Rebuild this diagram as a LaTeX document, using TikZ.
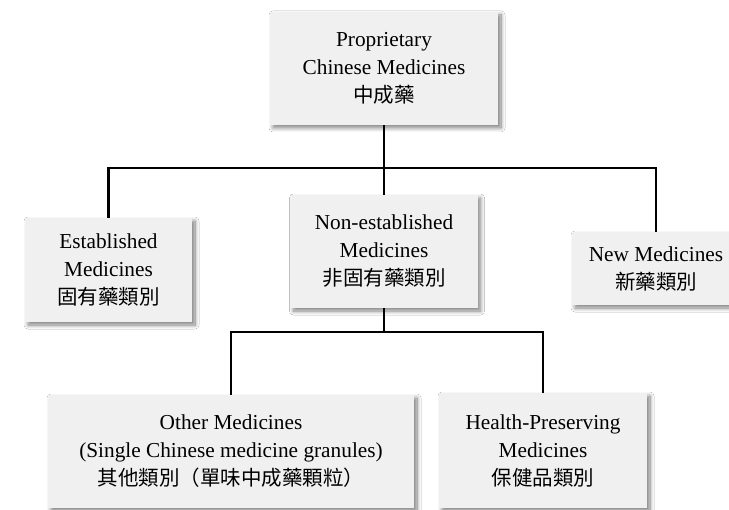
\documentclass[tikz,border=0pt]{standalone}
\usepackage{fontspec}
\setmainfont{Liberation Serif}
\newfontfamily\cjk[Scale=1.0]{Noto Sans CJK TC}
\usetikzlibrary{shadows.blur}
\definecolor{boxgray}{HTML}{F0F0F0}
\tikzset{
  box/.style={fill=boxgray, inner sep=0pt, align=center,
    font=\fontsize{21.3}{28}\selectfont,
    blur shadow={shadow xshift=3pt, shadow yshift=-3pt, shadow blur steps=10, shadow blur radius=4pt, shadow opacity=50}},
  conn/.style={line width=2.8pt, black, line join=miter}
}
\begin{document}
\begin{tikzpicture}[x=1pt,y=-1pt]
\clip (0,0) rectangle (729,510);
\fill[white] (0,0) rectangle (729,510);
\node[box, minimum width=228pt, minimum height=113pt] (top) at (384,68.5)
  {Proprietary\\Chinese Medicines\\{\cjk\fontsize{20.5}{28}\selectfont 中成藥}};
\node[box, minimum width=167pt, minimum height=104pt] (est) at (108.5,270)
  {Established\\Medicines\\{\cjk\fontsize{20.5}{28}\selectfont 固有藥類別}};
\node[box, minimum width=187pt, minimum height=113pt] (non) at (384,251.5)
  {Non-established\\Medicines\\{\cjk\fontsize{20.5}{28}\selectfont 非固有藥類別}};
\node[box, minimum width=168pt, minimum height=73pt] (new) at (656,268.5)
  {New Medicines\\{\cjk\fontsize{20.5}{28}\selectfont 新藥類別}};
\node[box, minimum width=366pt, minimum height=113pt] (other) at (231,451.5)
  {Other Medicines\\(Single Chinese medicine granules)\\{\cjk\fontsize{20.5}{28}\selectfont 其他類別（單味中成藥顆粒）}};
\node[box, minimum width=208pt, minimum height=115pt] (health) at (543,450.5)
  {Health-Preserving\\Medicines\\{\cjk\fontsize{20.5}{28}\selectfont 保健品類別}};
\coordinate (j1) at (384,168);
\coordinate (j2) at (384,332);
\draw[conn] (top.south) -- (j1);
\draw[conn] (j1) -- (non.north);
\draw[conn] (est.north) |- (j1) -| (new.north);
\draw[conn] (non.south) -- (j2);
\draw[conn] (other.north) |- (j2) -| (health.north);
\end{tikzpicture}
\end{document}
